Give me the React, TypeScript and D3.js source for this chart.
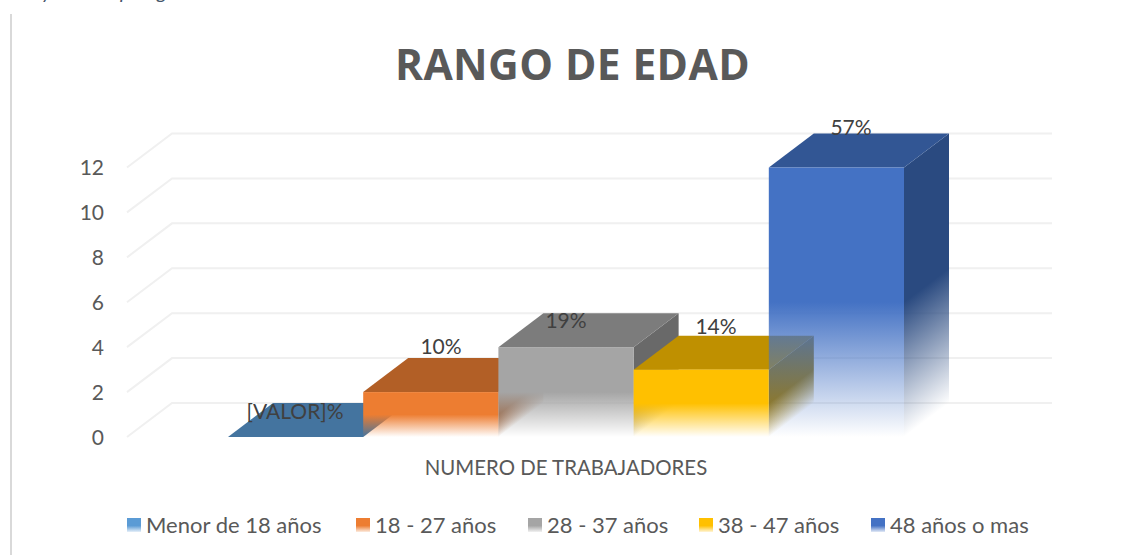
import React from "react";
import * as d3 from "d3";

const W = 1121, H = 555;
const seriesNames = ["Menor de 18 años", "18 - 27 años", "28 - 37 años", "38 - 47 años", "48 años o mas"];
const seriesValues = [0, 2, 4, 3, 12];
const dataLabels = ["[VALOR]%", "10%", "19%", "14%", "57%"];
const frontColors = ["#5B9BD5", "#ED7D31", "#A5A5A5", "#FFC000", "#4472C4"];
const topColors = ["#44749F", "#B25F26", "#7C7C7C", "#BF9000", "#325694"];
const sideColors = ["#3A6287", "#9A4F1D", "#696969", "#A37B00", "#2A4A80"];
const yTicks = [0, 2, 4, 6, 8, 10, 12];
const categoryLabel = "NUMERO DE TRABAJADORES";
const titleText = "RANGO DE EDAD";
const croppedGlyphs = ["y", "p", "g"];
const legendX = [127, 356, 528, 699, 871];
const labelCx = [295, 441, 566, 716, 851];
const labelY = [419, 354, 328, 334, 135];
const glyphX = [42, 120, 157];
const FONT = "Lato, 'Noto Sans', sans-serif";

const DX = 45, DY = 34;
const y = d3.scaleLinear().domain([0, 12]).range([437, 167.5]);
const x = d3.scaleBand<string>().domain(seriesNames).range([228, 904]).padding(0);
const plotLeft = 127, plotRight = 1007;
const poly = (pts: [number, number][]) => d3.line()(pts) + "Z";

export default function App() {
  const bw = x.bandwidth();
  const base = y(0);
  return (
    <svg width={W} height={H} style={{ position: "absolute", left: 0, top: 0, background: "#fff" }}>
      <defs>
        {seriesNames.map((s, i) => {
          const x1 = x(s)! + bw;
          const top = y(seriesValues[i]);
          const mid = top + (base - top) * 0.5;
          const len = Math.hypot(DX, DY);
          const nx = DY / len, ny = DX / len;
          const d = (base - mid) * ny;
          return (
            <React.Fragment key={s}>
              <linearGradient id={`front${i}`} x1="0" y1="0" x2="0" y2="1">
                <stop offset="0.5" stopColor={frontColors[i]} />
                <stop offset="1" stopColor={frontColors[i]} stopOpacity={0} />
              </linearGradient>
              <linearGradient id={`side${i}`} gradientUnits="userSpaceOnUse" x1={x1} y1={mid} x2={x1 + nx * d} y2={mid + ny * d}>
                <stop offset="0" stopColor={sideColors[i]} />
                <stop offset="1" stopColor={sideColors[i]} stopOpacity={0} />
              </linearGradient>
              <linearGradient id={`leg${i}`} x1="0" y1="0" x2="0" y2="1">
                <stop offset="0.55" stopColor={frontColors[i]} />
                <stop offset="1" stopColor={frontColors[i]} stopOpacity={0.15} />
              </linearGradient>
            </React.Fragment>
          );
        })}
      </defs>

      <rect x={10} y={14} width={2} height={H - 14} fill="#D9D9D9" />
      {croppedGlyphs.map((g, i) => (
        <text key={g} x={glyphX[i]} y={-1} fontFamily={FONT} fontStyle="italic" fontSize={20} fill="#44546A">{g}</text>
      ))}

      <text x={572.5} y={80} textAnchor="middle" fontFamily="'Open Sans', sans-serif" fontWeight={700} fontSize={42.5} letterSpacing={0.4} fill="#595959">
        {titleText}
      </text>

      {yTicks.map((t) => (
        <g key={t}>
          <path
            d={d3.line()([[plotLeft, y(t)], [plotLeft + DX, y(t) - DY], [plotLeft + DX + (plotRight - plotLeft), y(t) - DY]])!}
            fill="none" stroke="#F0F0F0" strokeWidth={2}
          />
          <text x={104} y={y(t) + 7.5} textAnchor="end" fontFamily={FONT} fontSize={21} fill="#595959">{t}</text>
        </g>
      ))}

      {seriesNames.map((s, i) => {
        const x0 = x(s)!, x1 = x0 + bw, top = y(seriesValues[i]);
        return (
          <g key={s}>
            {seriesValues[i] > 0 && (
              <path d={poly([[x1, top], [x1 + DX, top - DY], [x1 + DX, base - DY], [x1, base]])} fill={`url(#side${i})`} />
            )}
            <path d={poly([[x0, top], [x1, top], [x1 + DX, top - DY], [x0 + DX, top - DY]])} fill={topColors[i]} />
            {seriesValues[i] > 0 && (
              <rect x={x0} y={top} width={bw} height={base - top} fill={`url(#front${i})`} />
            )}
          </g>
        );
      })}

      {seriesNames.map((s, i) => (
        <text key={s} x={labelCx[i]} y={labelY[i]} textAnchor="middle" fontFamily={FONT} fontSize={21} fill="#404040">
          {dataLabels[i]}
        </text>
      ))}

      <text x={566} y={475} textAnchor="middle" fontFamily={FONT} fontSize={20.4} fill="#595959">{categoryLabel}</text>

      {seriesNames.map((s, i) => (
        <g key={s}>
          <rect x={legendX[i]} y={518} width={14} height={14} fill={`url(#leg${i})`} />
          <text x={legendX[i] + 19} y={533} fontFamily={FONT} fontSize={22} fill="#595959">{s}</text>
        </g>
      ))}
    </svg>
  );
}
